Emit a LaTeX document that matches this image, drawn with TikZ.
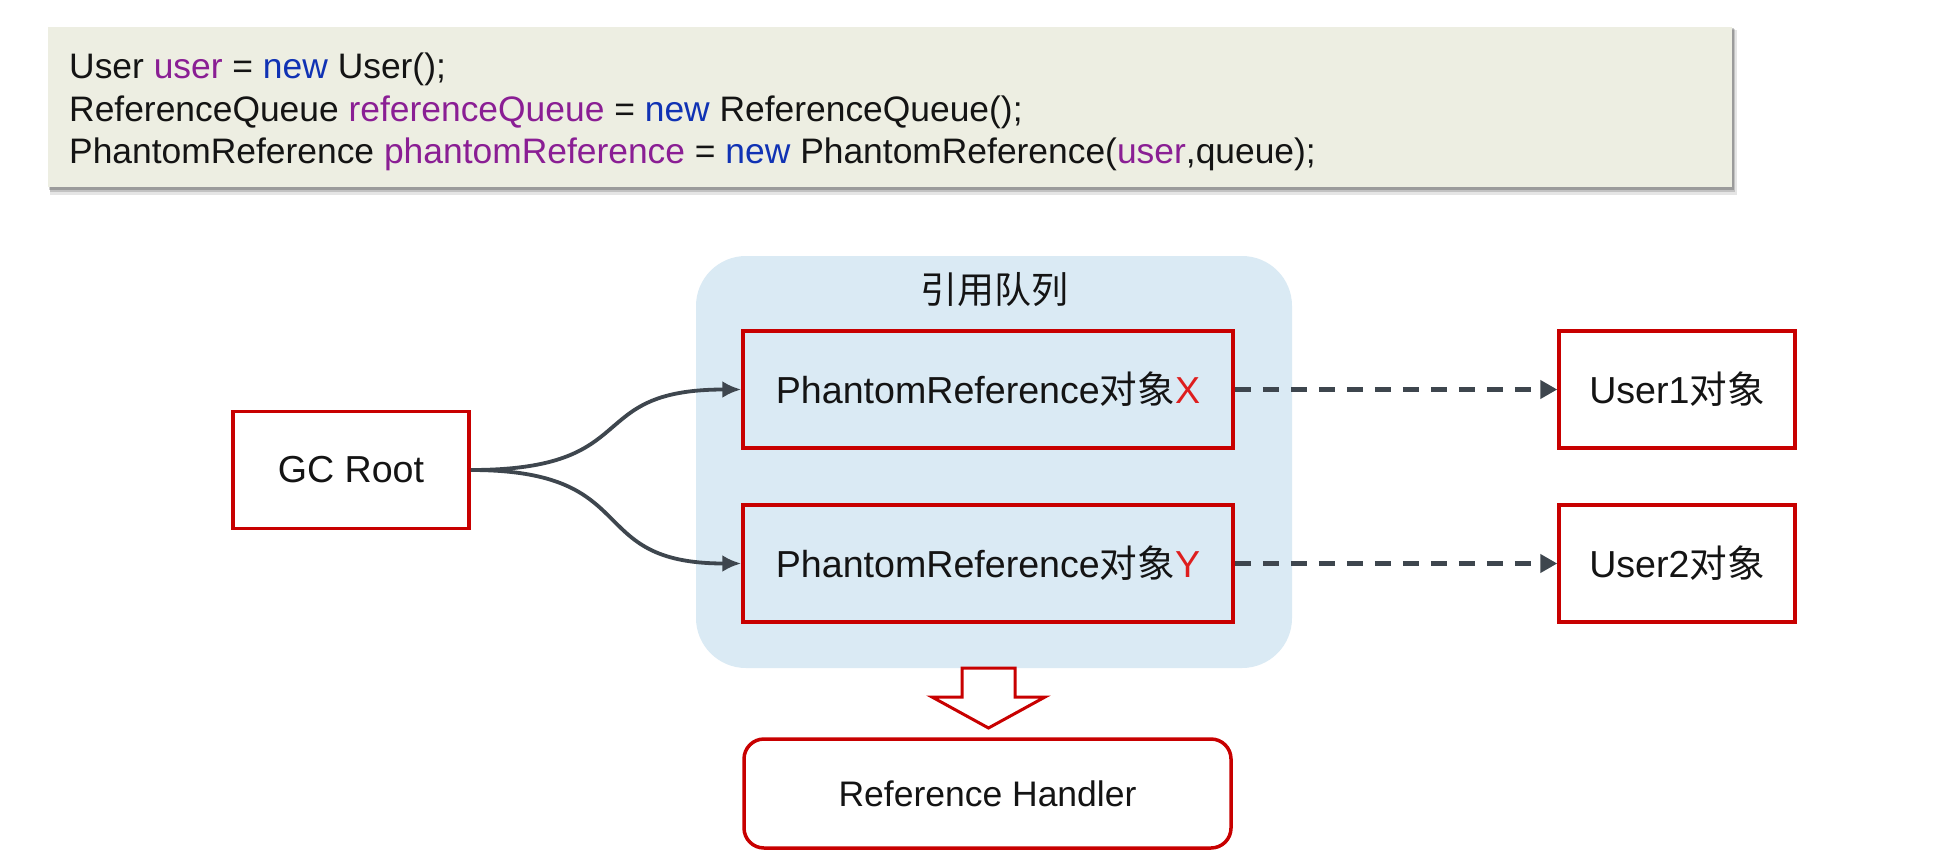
\documentclass[tikz,border=0pt]{standalone}
\usepackage{fontspec}
\setmainfont{Liberation Sans}
\newfontfamily\cjk{Noto Sans CJK SC}
\usetikzlibrary{arrows.meta}

\definecolor{rred}{RGB}{200,0,0}
\definecolor{xred}{RGB}{222,30,30}
\definecolor{qblue}{RGB}{218,234,244}
\definecolor{codebg}{RGB}{237,238,226}
\definecolor{kwpurple}{RGB}{138,30,148}
\definecolor{kwblue}{RGB}{16,50,180}
\definecolor{wire}{RGB}{62,70,78}
\definecolor{ink}{RGB}{20,20,20}

\begin{document}
\begin{tikzpicture}[x=1pt,y=-1pt,
  box/.style={draw=rred, line width=3.5pt, minimum width=236pt, minimum height=117pt,
    inner sep=0pt, text=ink, font=\fontsize{37.6}{40}\selectfont},
  codeline/.style={font=\fontsize{35.4}{42}\selectfont, text=ink, inner sep=0pt, anchor=base west},
  wire/.style={draw=wire, line width=3.8pt},
  curvearrow/.style={wire, -{Latex[length=19pt,width=17pt]}},
  dasharrow/.style={wire, line width=4.5pt, dash pattern=on 16pt off 12pt,
    -{Triangle[length=17pt,width=18pt]}}]

\useasboundingbox (0,0) rectangle (1945,859);
\fill[white] (0,0) rectangle (1945,859);

% code panel with a soft shadow
\fill[black, opacity=0.10] (50,30) rectangle (1737,195);
\fill[black, opacity=0.15] (50,29) rectangle (1735,192);
\fill[black, opacity=0.20] (49,28) rectangle (1734,190);
\node[fill=codebg, minimum width=1684pt, minimum height=160pt, inner sep=0pt] (code) at (890,107) {};

\node[codeline] (c1) at (69,78) {User \textcolor{kwpurple}{user} = \textcolor{kwblue}{new} User();};
\node[codeline] (c2) at (69,121) {ReferenceQueue \textcolor{kwpurple}{referenceQueue} = \textcolor{kwblue}{new} ReferenceQueue();};
\node[codeline] (c3) at (69,163) {PhantomReference \textcolor{kwpurple}{phantomReference} = \textcolor{kwblue}{new} PhantomReference(\textcolor{kwpurple}{user},queue);};

% reference queue
\node[fill=qblue, rounded corners=50pt, minimum width=596pt, minimum height=412pt, inner sep=0pt] (queue) at (994,462) {};
\node[font=\cjk\fontsize{37}{40}\selectfont, text=ink, inner sep=0pt] (qtitle) at (994,290) {引用队列};

\node[box, fill=qblue, minimum width=490pt] (px) at (988,389.5) {PhantomReference{\cjk 对象}\textcolor{xred}{X}};
\node[box, fill=qblue, minimum width=490pt] (py) at (988,563.5) {PhantomReference{\cjk 对象}\textcolor{xred}{Y}};

% root and referents
\node[box, fill=white] (gc) at (351,470) {GC Root};
\node[box, fill=white] (u1) at (1677,389.5) {User1{\cjk 对象}};
\node[box, fill=white] (u2) at (1677,563.5) {User2{\cjk 对象}};

% handler thread
\node[box, fill=white, rounded corners=20pt, minimum width=487pt, minimum height=109pt,
  font=\fontsize{35.5}{40}\selectfont] (rh) at (987.5,793.5) {Reference Handler};

% connectors
\draw[curvearrow] (gc.east) .. controls +(175,0) and +(-160,0) .. (px.west);
\draw[curvearrow] (gc.east) .. controls +(175,0) and +(-160,0) .. (py.west);
\draw[dasharrow] (px.east) -- (u1.west);
\draw[dasharrow] (py.east) -- (u2.west);

% hollow block arrow towards the handler
\draw[draw=rred, line width=3pt, fill=white, line join=miter]
  (962,668) -- (1015,668) -- (1015,697) -- (1045,697) -- (988.5,728)
  -- (932,697) -- (962,697) -- cycle;

\end{tikzpicture}
\end{document}
